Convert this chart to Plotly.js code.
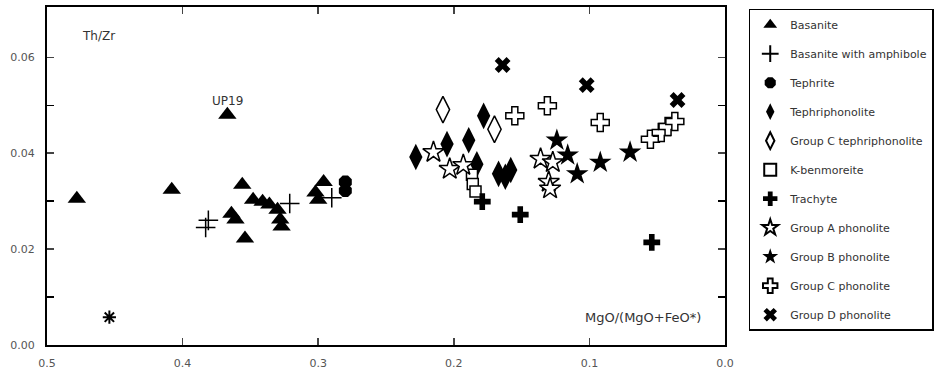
<!DOCTYPE html>
<html><head><meta charset="utf-8">
<script src="https://cdn.plot.ly/plotly-3.0.1.min.js"></script>
<style>html,body{margin:0;padding:0;background:#fff}#chart{width:951px;height:378px}</style>
</head><body><div id="chart"></div>
<script>
const seriesNames = ["Basanite","Basanite with amphibole","Tephrite","Tephriphonolite","Group C tephriphonolite","K-benmoreite","Trachyte","Group A phonolite","Group B phonolite","Group C phonolite","Group D phonolite"];

const basaniteX = [0.478,0.408,0.367,0.356,0.364,0.361,0.354,0.348,0.341,0.336,0.330,0.328,0.327,0.302,0.296,0.300];
const basaniteY = [0.0305,0.0324,0.0480,0.0334,0.0274,0.0262,0.0222,0.0303,0.0299,0.0293,0.0282,0.0262,0.0247,0.0318,0.0340,0.0303];
const amphX = [0.383,0.381,0.321,0.290];
const amphY = [0.0245,0.0260,0.0295,0.0307];
const tephriteX = [0.280,0.280];
const tephriteY = [0.0340,0.0322];
const tephriphonX = [0.228,0.205,0.189,0.178,0.183,0.167,0.162,0.158];
const tephriphonY = [0.0392,0.0419,0.0427,0.0478,0.0377,0.0357,0.0351,0.0365];
const grpCtephX = [0.208,0.170];
const grpCtephY = [0.0491,0.0450];
const kbenX = [0.1866,0.186,0.184];
const kbenY = [0.0355,0.0336,0.0320];
const trachyteX = [0.179,0.151,0.054];
const trachyteY = [0.0299,0.0272,0.0214];
const grpAX = [0.215,0.203,0.193,0.136,0.127,0.130,0.129];
const grpAY = [0.0402,0.0367,0.0375,0.0388,0.0381,0.0340,0.0326];
const grpBX = [0.124,0.116,0.109,0.092,0.070];
const grpBY = [0.0427,0.0396,0.0357,0.0381,0.0402];
const grpCphonX = [0.155,0.131,0.092,0.055,0.047,0.042,0.037];
const grpCphonY = [0.0478,0.0499,0.0464,0.0429,0.0443,0.0456,0.0466];
const grpDX = [0.164,0.102,0.035];
const grpDY = [0.0584,0.0542,0.0511];
const asteriskX = [0.454];
const asteriskY = [0.0058];

const xTickVals = [0.5,0.4,0.3,0.2,0.1,0.0];
const xTickText = ["0.5","0.4","0.3","0.2","0.1","0.0"];
const yTickVals = [0.00,0.02,0.04,0.06];
const yTickText = ["0.00","0.02","0.04","0.06"];

function tr(i, xs, ys, symbol, size, open){
  return {
    type:'scatter', mode:'markers', x:xs, y:ys, name:seriesNames[i], legendgroup:'g'+i,
    marker:{symbol:symbol, size:size, color: open ? '#ffffff' : '#000000',
      line:{color:'#000000', width: open ? 1.5 : 0}},
    hoverinfo:'skip'
  };
}
const data = [
  tr(0, basaniteX, basaniteY, 'triangle-up', 16, false),
  {type:'scatter', mode:'markers', x:amphX, y:amphY, name:seriesNames[1], legendgroup:'g1',
   marker:{symbol:'cross-thin-open', size:14, color:'#000', line:{color:'#000', width:1.5}}, hoverinfo:'skip'},
  tr(2, tephriteX, tephriteY, 'octagon', 14, false),
  tr(3, tephriphonX, tephriphonY, 'diamond-tall', 19, false),
  tr(4, grpCtephX, grpCtephY, 'diamond-tall', 19, true),
  tr(5, kbenX, kbenY, 'square', 11, true),
  tr(6, trachyteX, trachyteY, 'cross', 14, false),
  tr(7, grpAX, grpAY, 'star', 16, true),
  tr(8, grpBX, grpBY, 'star', 17, false),
  tr(9, grpCphonX, grpCphonY, 'cross', 15, true),
  tr(10, grpDX, grpDY, 'x', 14, false),
  {type:'scatter', mode:'markers', x:asteriskX, y:asteriskY, showlegend:false,
   marker:{symbol:'asterisk-open', size:11, color:'#000', line:{color:'#000', width:2}}, hoverinfo:'skip'}
];

const fam = 'DejaVu Sans, Arial, sans-serif';
const tickFont = {family:fam, size:11, color:'#555'};
const layout = {
  width:951, height:378,
  margin:{l:47, r:226, t:7, b:33, autoexpand:false},
  paper_bgcolor:'#fff', plot_bgcolor:'#fff',
  showlegend:true,
  legend:{x:1.035, xanchor:'left', y:0.995, yanchor:'top', bordercolor:'#000', borderwidth:1.5,
    font:{family:fam, size:11, color:'#333'}, tracegroupgap:10, bgcolor:'#fff',
    itemsizing:'constant', entrywidth:200},
  xaxis:{range:[0.5,0.0], tickvals:xTickVals, ticktext:xTickText, ticks:'inside', ticklen:7, tickwidth:1.5,
    showline:true, linecolor:'#000', linewidth:2, mirror:'ticks', showgrid:false, zeroline:false,
    tickfont:tickFont, ticklabelstandoff:7},
  yaxis:{range:[0,0.0705], tickvals:yTickVals, ticktext:yTickText, ticks:'inside', ticklen:7, tickwidth:1.5,
    showline:true, linecolor:'#000', linewidth:2, mirror:'ticks', showgrid:false, zeroline:false,
    tickfont:tickFont, ticklabelstandoff:8,
    minor:{tickvals:[0.01,0.03,0.05], ticks:'inside', ticklen:7, tickwidth:1.5, tickcolor:'#000', showgrid:false}},
  annotations:[
    {xref:'paper', yref:'paper', x:0.048, y:0.915, text:'Th/Zr', showarrow:false, xanchor:'left', yanchor:'middle',
     font:{family:fam, size:12, color:'#333'}},
    {x:0.367, y:0.0480, text:'UP19', showarrow:false, yshift:14,
     font:{family:fam, size:12, color:'#333'}},
    {xref:'paper', yref:'paper', x:0.968, y:0.08, text:'MgO/(MgO+FeO*)', showarrow:false, xanchor:'right', yanchor:'middle',
     font:{family:fam, size:13, color:'#333'}}
  ]
};
Plotly.newPlot('chart', data, layout, {staticPlot:true, displayModeBar:false});
</script></body></html>
